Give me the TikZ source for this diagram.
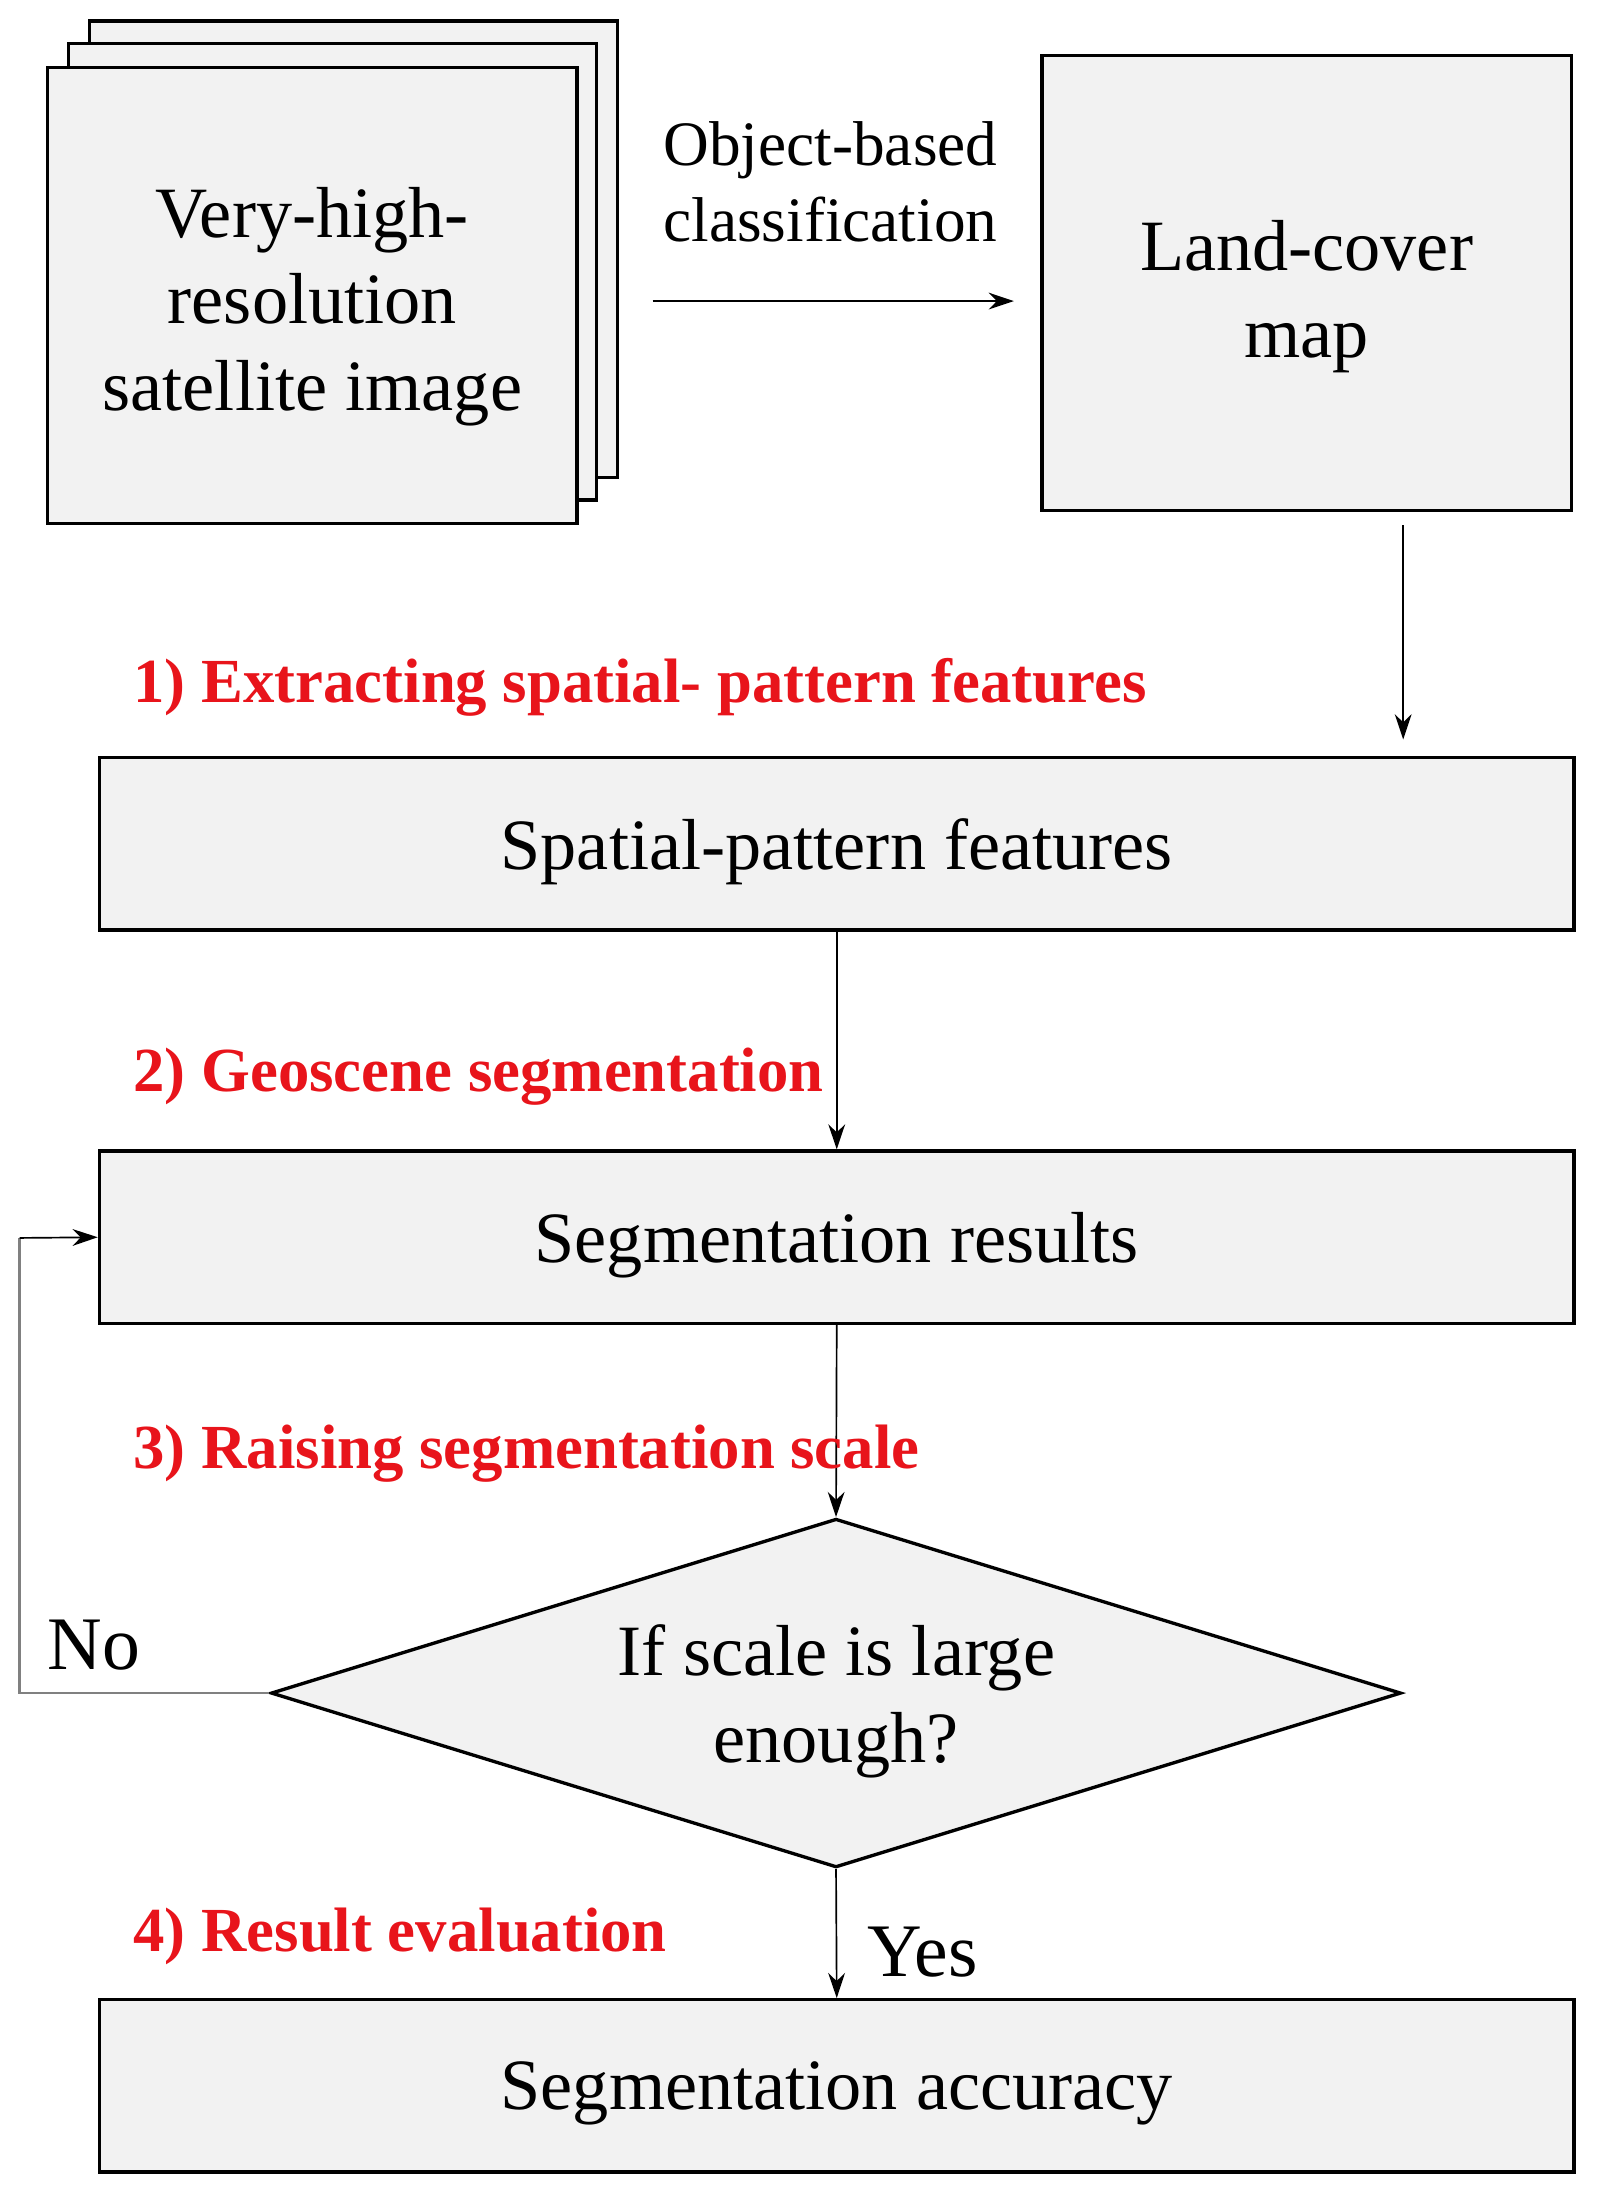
\documentclass[tikz,border=0pt]{standalone}
\usepackage{fontspec}
\setmainfont{Liberation Serif}
\usetikzlibrary{shapes.geometric,arrows.meta}
\definecolor{boxfill}{HTML}{F2F2F2}
\definecolor{lab}{HTML}{E8141B}
\begin{document}
\begin{tikzpicture}[x=0.5pt,y=-0.5pt,
  box/.style={draw,line width=1.2pt,fill=boxfill,inner sep=0pt,align=center,font=\fontsize{25.8}{32}\selectfont},
  red/.style={anchor=west,text=lab,font=\bfseries\fontsize{22.4}{26}\selectfont,inner sep=0pt},
  arr/.style={-{Stealth[length=9pt,width=6pt]},line width=0.6pt}]
\useasboundingbox (0,0) rectangle (1140,1566);
\node[box,minimum width=188.5pt,minimum height=163pt] (p3) at (252.5,178) {};
\node[box,minimum width=188.5pt,minimum height=163pt] (p2) at (237.5,194) {};
\node[box,minimum width=189pt,minimum height=163pt] (p1) at (223,211) {};
\node[font=\fontsize{25.8}{31}\selectfont,align=center] at (223,219) {Very-high-\\resolution\\satellite image};
\node[font=\fontsize{22.6}{27}\selectfont,align=center] (ob) at (593,130) {Object-based\\classification};
\node[box,minimum width=189pt,minimum height=162.5pt] (lc) at (933,202) {};
\node[font=\fontsize{25.8}{31}\selectfont,align=center] at (933,212) {Land-cover\\map};
\coordinate (a1) at (466,215); \coordinate (a2) at (724,215);
\draw[arr] (a1) -- (a2);
\node[box,minimum width=526.5pt,minimum height=61.5pt] (sp) at (597.5,602.5) {};
\node at (597.5,608) [font=\fontsize{25.8}{31}\selectfont] {Spatial-pattern features};
\node[box,minimum width=526.5pt,minimum height=61.5pt] (sr) at (597.5,883.5) {};
\node at (597.5,889) [font=\fontsize{25.8}{31}\selectfont] {Segmentation results};
\node[box,minimum width=526.5pt,minimum height=61.5pt] (sa) at (597.5,1489.5) {};
\node at (597.5,1495) [font=\fontsize{25.8}{31}\selectfont] {Segmentation accuracy};
\node[diamond,draw,line width=1.2pt,fill=boxfill,minimum width=403.5pt,minimum height=124.5pt,inner sep=0pt,aspect=3.24] (d) at (597,1209) {};
\node[align=center,font=\fontsize{25.8}{31}\selectfont] at (597,1215) {If scale is large\\enough?};
\coordinate (c1) at (1002,375); \coordinate (c2) at (1002,528);
\draw[arr] (c1) -- (c2);
\draw[arr] (sp.south) -- (sr.north);
\draw[arr] (sr.south) -- (d.north);
\draw[arr] (d.south) -- (sa.north);
\coordinate (n1) at (14,1209); \coordinate (n2) at (14,884);
\draw[line width=0.8pt,draw=gray] (d.west) -- (n1) -- (n2);
\draw[arr] (n2) -- (sr.west);
\node[font=\fontsize{27}{30}\selectfont] (no) at (67,1175) {No};
\node[font=\fontsize{27}{30}\selectfont] (yes) at (659,1394) {Yes};
\node[red] (l1) at (95,491) {1) Extracting spatial- pattern features};
\node[red] (l2) at (95,769) {2) Geoscene segmentation};
\node[red] (l3) at (95,1038) {3) Raising segmentation scale};
\node[red] (l4) at (95,1383) {4) Result evaluation};
\end{tikzpicture}
\end{document}
